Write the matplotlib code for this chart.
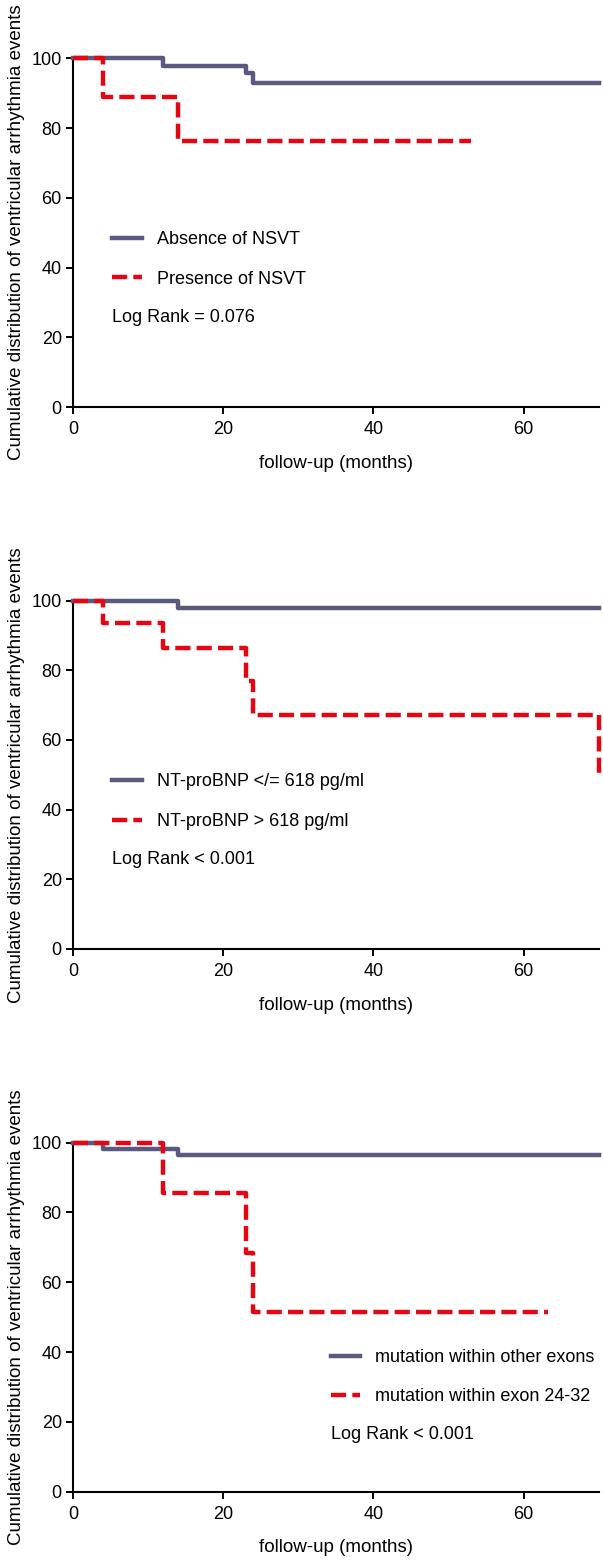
import numpy as np
import matplotlib
matplotlib.use('Agg')
import matplotlib.pyplot as plt

plt.rcParams['font.family'] = ['Liberation Sans', 'DejaVu Sans']

blue = '#5a5a80'
red = '#e30613'

# Kaplan-Meier style step curves (months, % free of events)
nsvt_abs_t = [0, 12, 23, 24, 70]
nsvt_abs_s = [100, 97.9, 95.7, 93.0, 93.0]
nsvt_pre_t = [0, 4, 14, 53]
nsvt_pre_s = [100, 88.9, 76.2, 76.2]

bnp_low_t = [0, 14, 70]
bnp_low_s = [100, 97.9, 97.9]
bnp_high_t = [0, 4, 12, 23, 24, 70]
bnp_high_s = [100, 93.7, 86.5, 77.0, 67.2, 48.9]

exon_oth_t = [0, 4, 14, 70]
exon_oth_s = [100, 98.3, 96.5, 96.5]
exon_hot_t = [0, 12, 23, 24, 63.3]
exon_hot_s = [100, 85.7, 68.5, 51.4, 51.4]

labels1 = ['Absence of NSVT', 'Presence of NSVT']
labels2 = ['NT-proBNP </= 618 pg/ml', 'NT-proBNP > 618 pg/ml']
labels3 = ['mutation within other exons', 'mutation within exon 24-32']
logrank = ['Log Rank = 0.076', 'Log Rank < 0.001', 'Log Rank < 0.001']

panels = [
    (nsvt_abs_t, nsvt_abs_s, nsvt_pre_t, nsvt_pre_s, labels1, logrank[0]),
    (bnp_low_t, bnp_low_s, bnp_high_t, bnp_high_s, labels2, logrank[1]),
    (exon_oth_t, exon_oth_s, exon_hot_t, exon_hot_s, labels3, logrank[2]),
]
# axes rectangles and legend anchors (axes fraction)
rects = [[0.121, 0.7391, 0.872, 0.2235],
         [0.121, 0.3917, 0.872, 0.2233],
         [0.121, 0.0438, 0.872, 0.2237]]
leg_pos = [(0.074, 0.423, 0.258), (0.074, 0.423, 0.2555), (0.49, 0.328, 0.1645)]

fs = 13
fig = plt.figure(figsize=(6.03, 15.6), dpi=100)
for (t1, s1, t2, s2, labs, lr), rect, (lx, ly, lry) in zip(panels, rects, leg_pos):
    ax = fig.add_axes(rect)
    ax.step(t1, s1, where='post', color=blue, lw=3.2, clip_on=False,
            label=labs[0], zorder=3)
    ax.step(t2, s2, where='post', color=red, lw=3.2, clip_on=False,
            linestyle=(0, (3.4, 1.4)), label=labs[1], zorder=4)
    ax.set_xlim(0, 70)
    ax.set_ylim(0, 100)
    ax.set_xticks([0, 20, 40, 60])
    ax.set_yticks([0, 20, 40, 60, 80, 100])
    for side in ['top', 'right']:
        ax.spines[side].set_visible(False)
    for side in ['left', 'bottom']:
        ax.spines[side].set_linewidth(1.5)
    ax.tick_params(width=1.4, length=5, labelsize=fs, pad=3)
    ax.tick_params(axis='x', pad=5)
    ax.set_xlabel('follow-up (months)', fontsize=13.5, labelpad=12)
    ax.set_ylabel('Cumulative distribution of ventricular arrhythmia events',
                  fontsize=13.5, labelpad=5)
    ax.legend(loc='center left', bbox_to_anchor=(lx, ly), frameon=False,
              fontsize=fs, borderpad=0, borderaxespad=0, handlelength=1.65,
              handletextpad=0.83, labelspacing=1.25)
    ax.text(lx, lry, lr, transform=ax.transAxes, fontsize=fs, va='center')

fig.savefig('out.png', dpi=100)
